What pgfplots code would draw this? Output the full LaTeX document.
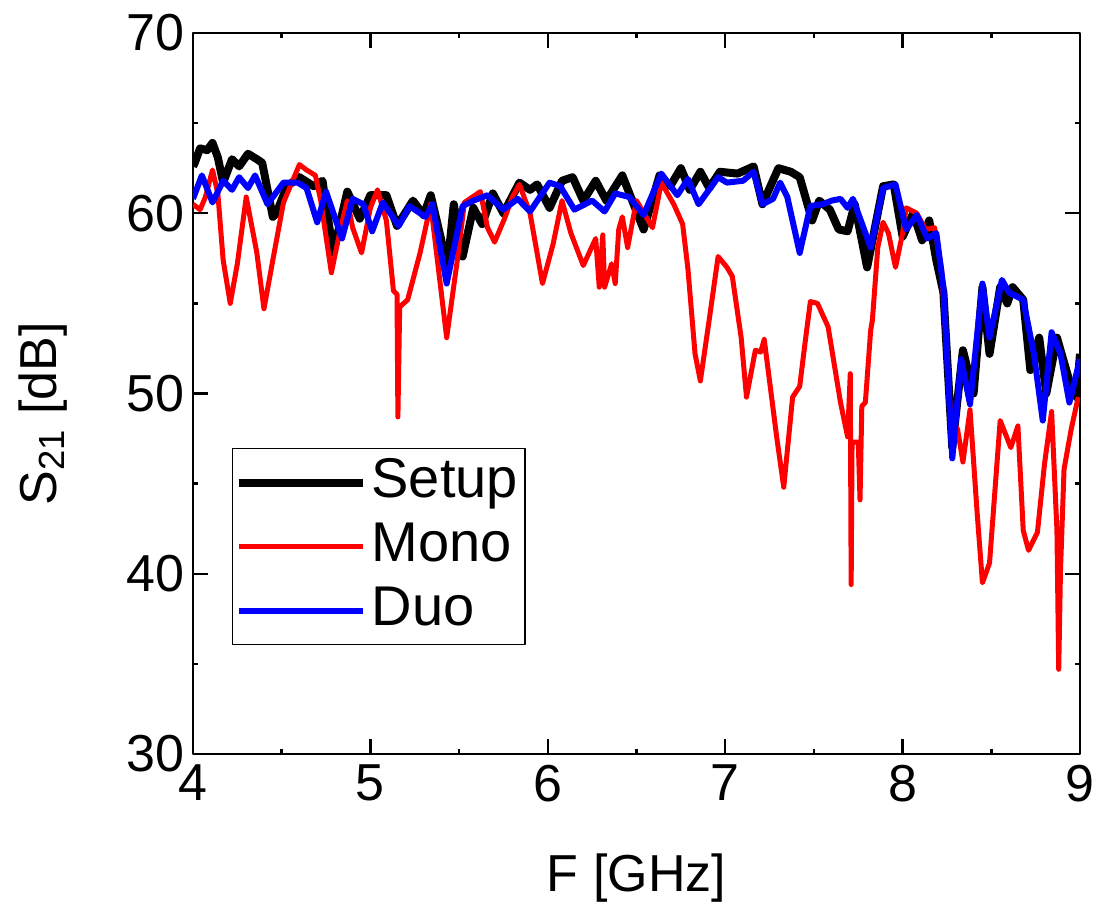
\documentclass[border=0pt]{standalone}
\usepackage{fontspec}
\setmainfont{Liberation Sans}
\usepackage{pgfplots}
\pgfplotsset{compat=1.18}

\begin{document}
\begin{tikzpicture}
\useasboundingbox (-96.5pt,-78.5pt) rectangle (451pt,377pt);
\begin{axis}[
    scale only axis,
    width=443.5pt,
    height=360.5pt,
    xmin=4, xmax=9,
    ymin=30, ymax=70,
    xtick={4,5,6,7,8,9},
    ytick={30,40,50,60,70},
    minor x tick num=1,
    minor y tick num=1,
    tick align=inside,
    major tick length=7.5pt,
    minor tick length=2.5pt,
    every tick/.style={black, line width=1.2pt},
    axis line style={line width=1.2pt},
    /pgf/number format/assume math mode=true,
    ticklabel style={font=\fontsize{26}{30}\selectfont},
    xticklabel style={yshift=-2pt},
    yticklabel style={xshift=-1pt},
    label style={font=\fontsize{26}{30}\selectfont},
    xlabel={F [GHz]},
    ylabel={S\textsubscript{21} [dB]},
    xlabel style={at={(axis description cs:0.5,-0.172)}, anchor=center},
    ylabel style={at={(axis description cs:-0.169,0.472)}, anchor=center},
    legend style={at={(0.044,0.151)}, anchor=south west, draw=black,
        line width=0.6pt, inner xsep=1pt, inner ysep=1pt,
        font=\fontsize{28}{33}\selectfont,
        nodes={inner sep=2.5pt, text height=21pt, text depth=6pt}},
    legend cell align=left,
    legend image code/.code={\draw[#1] (0pt,0pt) -- (62pt,0pt);},
    line join=round,
]
% Setup
\addplot[black, line width=4pt] coordinates {
(4.00,62.6) (4.01,62.8) (4.04,63.6) (4.08,63.5) (4.11,63.9) (4.14,63.1) (4.17,61.7)
(4.22,63.0) (4.26,62.6) (4.31,63.3) (4.36,63.0) (4.39,62.8) (4.45,59.8) (4.47,60.0)
(4.53,61.5) (4.60,62.0) (4.68,61.5) (4.73,61.8) (4.79,57.8) (4.87,61.2) (4.94,59.7)
(5.00,61.0) (5.09,61.0) (5.15,59.3) (5.24,60.7) (5.30,59.9) (5.34,61.0) (5.40,58.5)
(5.43,56.6) (5.47,60.5) (5.52,57.6) (5.58,60.3) (5.63,59.4) (5.69,61.1) (5.75,60.0)
(5.84,61.7) (5.90,61.3) (5.94,61.6) (6.01,60.3) (6.08,61.8) (6.14,62.0) (6.20,60.7)
(6.27,61.8) (6.33,60.7) (6.42,62.1) (6.54,59.1) (6.63,62.1) (6.69,61.5) (6.75,62.5)
(6.80,61.3) (6.86,62.3) (6.91,61.4) (6.97,62.3) (7.07,62.2) (7.16,62.6) (7.21,60.5)
(7.30,62.5) (7.37,62.3) (7.42,62.0) (7.49,59.6) (7.53,60.7) (7.59,60.2) (7.64,59.1)
(7.69,59.0) (7.73,60.5) (7.80,57.0) (7.89,61.5) (7.95,61.6) (8.00,58.7) (8.06,60.0)
(8.11,58.5) (8.15,59.6) (8.19,57.4) (8.23,55.6) (8.28,47.0) (8.34,52.4) (8.40,50.0)
(8.45,55.9) (8.49,52.2) (8.55,55.9) (8.59,55.0) (8.62,55.9) (8.68,55.2) (8.72,51.3)
(8.77,53.1) (8.81,50.0) (8.87,53.1) (8.94,50.7) (8.98,49.8) (9.00,52.2)
};
\addlegendentry{Setup}
% Mono
\addplot[red, line width=2.5pt] coordinates {
(4.00,60.5) (4.04,60.2) (4.07,60.9) (4.11,62.4) (4.14,61.1) (4.17,57.4) (4.21,55.0)
(4.25,57.2) (4.30,60.9) (4.36,57.8) (4.40,54.7) (4.45,57.4) (4.51,60.6) (4.60,62.7)
(4.64,62.4) (4.69,62.1) (4.72,60.7) (4.78,56.7) (4.83,59.1) (4.87,60.7) (4.90,59.2)
(4.95,57.8) (5.00,60.3) (5.04,61.3) (5.09,59.6) (5.13,55.7) (5.15,55.5) (5.155,48.7)
(5.165,54.8) (5.21,55.2) (5.28,57.8) (5.34,60.5) (5.38,57.2) (5.43,53.1) (5.49,57.4)
(5.53,60.6) (5.62,61.2) (5.66,59.2) (5.70,58.4) (5.76,59.8) (5.80,60.9) (5.84,61.6)
(5.90,60.0) (5.97,56.1) (6.03,58.3) (6.08,60.7) (6.13,58.9) (6.20,57.1) (6.27,58.6)
(6.29,55.9) (6.31,58.8) (6.32,55.9) (6.36,57.2) (6.38,56.1) (6.40,59.1) (6.42,59.8)
(6.45,58.1) (6.50,60.7) (6.59,59.2) (6.64,61.7) (6.71,60.5) (6.76,59.4) (6.79,56.9)
(6.83,52.2) (6.86,50.7) (6.91,54.1) (6.96,57.6) (7.01,57.0) (7.04,56.5) (7.09,53.1)
(7.12,49.8) (7.17,52.4) (7.20,52.3) (7.22,53.0) (7.29,47.6) (7.33,44.8) (7.38,49.8)
(7.42,50.4) (7.45,52.8) (7.48,55.1) (7.52,55.0) (7.58,53.7) (7.65,49.5) (7.69,47.6)
(7.705,51.1) (7.71,39.4) (7.715,47.3) (7.75,47.3) (7.76,44.1) (7.77,49.3) (7.79,49.5)
(7.82,53.5) (7.83,54.1) (7.86,58.1) (7.89,59.5) (7.92,58.9) (7.96,57.0) (8.00,58.9)
(8.02,60.3) (8.08,60.0) (8.13,59.1) (8.18,59.2) (8.22,56.9) (8.27,48.9) (8.31,48.0)
(8.34,46.2) (8.38,49.1) (8.42,43.4) (8.45,39.5) (8.49,40.6) (8.55,48.5) (8.61,47.0)
(8.65,48.2) (8.68,42.4) (8.71,41.3) (8.76,42.3) (8.80,46.1) (8.84,49.0) (8.87,42.4)
(8.88,34.7) (8.89,40.2) (8.91,45.8) (8.95,48.0) (8.99,49.8)
};
\addlegendentry{Mono}
% Duo
\addplot[blue, line width=3pt] coordinates {
(4.00,60.8) (4.05,62.1) (4.11,60.6) (4.17,61.8) (4.22,61.3) (4.26,62.0) (4.31,61.4)
(4.35,62.1) (4.42,60.5) (4.51,61.7) (4.59,61.7) (4.64,61.4) (4.70,59.5) (4.75,61.2)
(4.84,58.6) (4.90,60.8) (4.96,60.5) (5.01,59.0) (5.07,60.6) (5.16,59.3) (5.22,60.4)
(5.31,59.8) (5.35,60.5) (5.43,56.1) (5.52,60.4) (5.58,60.7) (5.66,61.0) (5.75,60.2)
(5.83,60.8) (5.90,60.1) (6.01,61.7) (6.07,61.5) (6.15,60.2) (6.25,60.7) (6.32,60.1)
(6.38,61.1) (6.46,60.9) (6.54,59.9) (6.64,62.2) (6.73,61.0) (6.79,61.9) (6.85,60.5)
(6.96,62.0) (7.01,61.7) (7.10,61.8) (7.16,62.3) (7.21,60.5) (7.27,60.8) (7.31,61.7)
(7.35,60.9) (7.42,57.8) (7.48,60.4) (7.55,60.5) (7.60,60.7) (7.65,60.8) (7.69,60.3)
(7.72,60.8) (7.82,58.1) (7.89,61.4) (7.96,61.6) (8.02,59.1) (8.08,59.9) (8.14,58.6)
(8.19,58.9) (8.23,55.9) (8.28,46.4) (8.33,51.9) (8.38,49.4) (8.45,56.1) (8.49,53.1)
(8.56,56.3) (8.60,55.6) (8.68,55.2) (8.74,52.2) (8.79,48.5) (8.84,53.4) (8.89,52.2)
(8.94,49.5) (9.00,51.9)
};
\addlegendentry{Duo}
\end{axis}
\end{tikzpicture}
\end{document}
